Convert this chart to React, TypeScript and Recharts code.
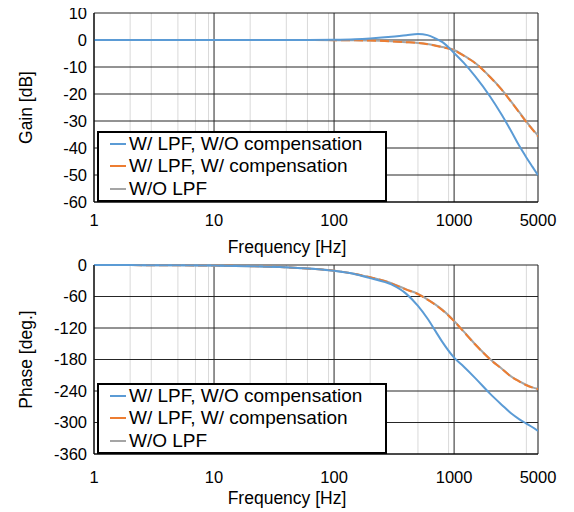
import { LineChart, Line, XAxis, YAxis, CartesianGrid, Legend } from "recharts";

const FONT = "'Liberation Sans', Arial, sans-serif";
const TICK_SIZE = 16.5;
const TITLE_SIZE = 17.5;
const LEGEND_SIZE = 19;

// frequency points [Hz]
const FREQ = [1, 2, 5, 10, 20, 50, 100, 150, 200, 300, 400, 500, 600, 700, 800, 1000, 1200, 1500, 2000, 2500, 3000, 3500, 4000, 4500, 5000];

// gain [dB]
const GAIN_WO_COMP = [0, 0, 0, 0, 0, 0, 0.1, 0.3, 0.6, 1.2, 1.8, 2.2, 1.8, 0.6, -0.8, -4.8, -8.4, -13.5, -21, -27.8, -33.9, -39.3, -43.5, -47, -50.1];
const GAIN_W_COMP = [0, 0, 0, 0, 0, 0, -0.05, -0.1, -0.2, -0.5, -0.8, -1.1, -1.55, -2.1, -2.7, -3.8, -5.8, -8.6, -13.8, -18.5, -23, -27, -30.4, -33.2, -35.7];
const GAIN_NO_LPF = [0, 0, 0, 0, 0, 0, -0.05, -0.1, -0.2, -0.5, -0.8, -1.1, -1.5, -2.0, -2.6, -3.7, -5.7, -8.5, -13.7, -18.4, -22.9, -26.8, -30.2, -33.0, -35.4];

// phase [deg.]
const PHASE_WO_COMP = [0, -0.2, -0.5, -1.1, -2.2, -5.5, -11, -17.5, -25, -37, -55, -78, -102, -126, -147, -176.5, -193.5, -215.5, -245.5, -266.5, -283, -294, -302, -309, -316];
const PHASE_W_COMP = [0, -0.2, -0.5, -1.1, -2.2, -5.5, -11, -17, -23.5, -35, -47, -55.5, -66, -76, -86, -107, -127, -151.5, -180, -198, -213, -222, -229, -233.5, -236.5];
const PHASE_NO_LPF = [0, -0.2, -0.5, -1.1, -2.2, -5.5, -11, -17, -23.5, -34.5, -46.5, -55, -65.5, -75.5, -85.5, -106.5, -126.5, -151, -179.5, -197.5, -212.5, -221.5, -228.5, -233, -236];

const MAJOR_TICKS = [1, 10, 100, 1000, 5000];
const MINOR_TICKS = [2, 3, 4, 5, 6, 7, 8, 9, 20, 30, 40, 50, 60, 70, 80, 90, 200, 300, 400, 500, 600, 700, 800, 900, 2000, 3000, 4000];
const GAIN_TICKS = [10, 0, -10, -20, -30, -40, -50, -60];
const PHASE_TICKS = [0, -60, -120, -180, -240, -300, -360];

const SERIES = [
  { key: "wo", name: "W/ LPF, W/O compensation", color: "#5B9BD5" },
  { key: "w", name: "W/ LPF, W/ compensation", color: "#ED7D31" },
  { key: "no", name: "W/O LPF", color: "#A5A5A5" },
];

const gainData = FREQ.map((f, i) => ({ f, wo: GAIN_WO_COMP[i], w: GAIN_W_COMP[i], no: GAIN_NO_LPF[i] }));
const phaseData = FREQ.map((f, i) => ({ f, wo: PHASE_WO_COMP[i], w: PHASE_W_COMP[i], no: PHASE_NO_LPF[i] }));

const tickStyle = { fill: "#000", fontSize: TICK_SIZE, fontFamily: FONT };

function LegendBox() {
  return (
    <div
      style={{
        border: "2px solid #000",
        background: "#fff",
        padding: "0 4px 0 11px",
        width: 271,
        fontFamily: FONT,
        fontSize: LEGEND_SIZE,
        color: "#000",
      }}
    >
      {SERIES.map((s) => (
        <div key={s.key} style={{ display: "flex", alignItems: "center", height: 22.3, whiteSpace: "nowrap" }}>
          <span style={{ display: "inline-block", width: 16, height: 2, background: s.color, marginRight: 3 }} />
          <span>{s.name}</span>
        </div>
      ))}
    </div>
  );
}

function Plot({ data, height, top, yTicks, yDomain, yLabel, xAxisHeight, tickGap, titleOffset, legendTop }: any) {
  return (
    <LineChart width={574} height={height} data={data} margin={{ top, right: 36, left: 0, bottom: 0 }}>
      <XAxis xAxisId="minor" dataKey="f" type="number" scale="log" domain={[1, 5000]} ticks={MINOR_TICKS} hide allowDataOverflow />
      <CartesianGrid xAxisId="minor" horizontal={false} stroke="#d9d9d9" />
      <CartesianGrid stroke="#262626" />
      <XAxis
        dataKey="f"
        type="number"
        scale="log"
        domain={[1, 5000]}
        ticks={MAJOR_TICKS}
        allowDataOverflow
        height={xAxisHeight}
        tickLine={false}
        tickSize={0}
        tickMargin={tickGap}
        axisLine={{ stroke: "#000" }}
        tick={tickStyle}
        label={{
          content: ({ viewBox }: any) => (
            <text
              x={viewBox.x + viewBox.width / 2 - 29}
              y={viewBox.y + titleOffset}
              textAnchor="middle"
              dominantBaseline="central"
              style={{ fontFamily: FONT, fontSize: TITLE_SIZE, fill: "#000" }}
            >
              Frequency [Hz]
            </text>
          ),
        }}
      />
      <YAxis
        type="number"
        domain={yDomain}
        ticks={yTicks}
        width={94}
        tickLine={false}
        tickSize={0}
        tickMargin={7}
        axisLine={{ stroke: "#000" }}
        tick={tickStyle}
        interval={0}
        label={{
          content: ({ viewBox }: any) => (
            <text
              x={26}
              y={viewBox.y + viewBox.height / 2}
              textAnchor="middle"
              dominantBaseline="central"
              transform={`rotate(-90, 26, ${viewBox.y + viewBox.height / 2})`}
              style={{ fontFamily: FONT, fontSize: TITLE_SIZE, fill: "#000" }}
            >
              {yLabel}
            </text>
          ),
        }}
      />
      <Line dataKey="no" name="W/O LPF" type="monotone" stroke="#A5A5A5" strokeWidth={2} dot={false} isAnimationActive={false} />
      <Line dataKey="w" name="W/ LPF, W/ compensation" type="monotone" stroke="#ED7D31" strokeWidth={2} strokeDasharray="9 4" dot={false} isAnimationActive={false} />
      <Line dataKey="wo" name="W/ LPF, W/O compensation" type="monotone" stroke="#5B9BD5" strokeWidth={2} dot={false} isAnimationActive={false} />
      <Legend
        layout="vertical"
        align="center"
        verticalAlign="middle"
        wrapperStyle={{ left: 97, top: legendTop, width: "auto", height: "auto" }}
        content={() => <LegendBox />}
      />
    </LineChart>
  );
}

export default function App() {
  return (
    <div style={{ width: 574, margin: "-8px 0 0 -8px", fontFamily: FONT }}>
      <Plot data={gainData} height={257} top={13} yTicks={GAIN_TICKS} yDomain={[-60, 10]} yLabel="Gain [dB]" xAxisHeight={55} tickGap={12} titleOffset={44.5} legendTop={131} />
      <Plot data={phaseData} height={255} top={8} yTicks={PHASE_TICKS} yDomain={[-360, 0]} yLabel="Phase [deg.]" xAxisHeight={58} tickGap={17} titleOffset={44} legendTop={126} />
    </div>
  );
}
